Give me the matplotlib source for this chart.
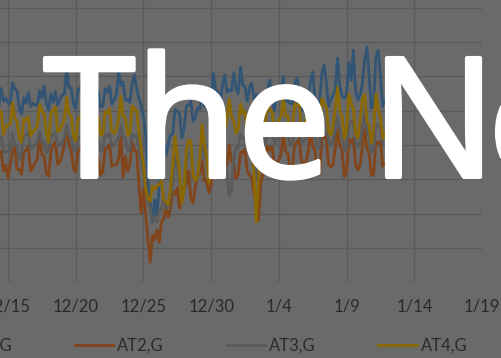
import matplotlib
matplotlib.use("Agg")
import matplotlib.pyplot as plt
import matplotlib.patheffects as pe
from matplotlib.patches import Rectangle
from matplotlib.textpath import TextPath
from matplotlib.font_manager import FontProperties
import pandas as pd

# 4-hourly readings, 12/14 00:00 through 1/12 00:00 (one row per day)
at1 = [
    50.5, 52.6, 51.6, 56.5, 52.8, 53.7,
    52.3, 51.9, 58.2, 56.3, 55.8, 50.7,
    49.0, 53.8, 52.2, 55.3, 51.3, 52.2,
    51.7, 51.4, 55.9, 53.7, 57.3, 52.1,
    50.2, 54.9, 52.5, 55.6, 51.6, 53.4,
    54.6, 54.9, 62.5, 56.6, 56.7, 52.1,
    50.5, 56.4, 56.0, 59.4, 53.7, 52.8,
    52.3, 51.9, 57.1, 54.8, 55.8, 51.0,
    51.4, 56.4, 55.4, 57.1, 51.9, 53.1,
    54.6, 61.3, 57.4, 58.4, 53.1, 53.3,
    52.5, 57.9, 60.4, 56.5, 53.7, 51.5,
    48.5, 43.0, 30.0, 23.0, 17.5, 24.0,
    19.5, 28.0, 31.0, 40.0, 37.0, 40.5,
    43.0, 43.2, 50.4, 49.9, 49.1, 41.9,
    44.6, 51.4, 51.6, 52.7, 47.0, 48.1,
    50.8, 50.5, 55.6, 51.3, 52.0, 49.2,
    51.9, 61.0, 56.0, 55.6, 51.3, 57.5,
    60.5, 55.4, 56.2, 55.7, 61.1, 56.5,
    54.9, 62.8, 57.5, 57.1, 52.8, 56.9,
    58.1, 53.4, 54.7, 49.9, 54.3, 53.6,
    53.4, 56.4, 59.0, 53.6, 49.9, 54.5,
    54.6, 56.3, 60.0, 52.8, 52.9, 52.1,
    51.9, 57.9, 59.6, 55.6, 49.9, 54.5,
    54.6, 53.4, 58.5, 61.3, 53.0, 50.7,
    51.9, 60.8, 63.4, 58.5, 51.3, 53.1,
    54.6, 56.3, 65.4, 57.2, 54.3, 53.6,
    54.9, 63.9, 58.9, 67.7, 55.7, 53.1,
    54.6, 57.8, 64.8, 68.6, 60.2, 50.7,
    51.9, 65.7, 67.7, 60.0, 51.3, 53.1,
    50.8,
]

at2 = [
    33.0, 37.4, 37.0, 38.1, 32.4, 34.1,
    30.4, 34.5, 38.0, 39.5, 33.0, 32.8,
    31.5, 38.0, 38.5, 39.5, 32.4, 33.5,
    34.8, 35.9, 42.2, 37.3, 36.8, 31.7,
    30.9, 38.0, 40.0, 41.0, 34.4, 35.0,
    37.1, 40.3, 45.0, 40.2, 38.3, 33.2,
    32.1, 38.9, 38.5, 40.1, 33.8, 34.1,
    34.2, 35.0, 40.7, 36.7, 36.2, 31.1,
    32.1, 38.9, 39.1, 40.1, 33.8, 34.1,
    34.2, 35.9, 42.5, 30.6, 36.8, 32.3,
    34.4, 40.9, 38.5, 38.1, 28.3, 20.1,
    26.9, 19.5, 12.3, 5.8, 13.7, 12.3,
    15.2, 11.5, 17.5, 18.5, 22.0, 19.0,
    21.5, 26.5, 25.5, 27.5, 21.5, 25.0,
    28.0, 28.5, 32.5, 24.5, 23.1, 28.0,
    31.0, 31.5, 35.5, 29.5, 29.5, 26.0,
    28.6, 36.0, 35.6, 36.6, 30.3, 31.2,
    32.7, 34.4, 40.1, 35.3, 34.5, 30.2,
    31.5, 38.0, 37.6, 38.9, 32.4, 31.2,
    30.5, 26.0, 23.0, 18.1, 29.0, 31.5,
    33.0, 39.7, 38.5, 39.5, 33.8, 34.7,
    35.7, 37.3, 43.1, 38.2, 37.4, 32.6,
    33.0, 40.3, 40.5, 41.9, 35.3, 34.7,
    34.8, 37.9, 44.2, 39.7, 38.3, 31.7,
    31.5, 41.8, 42.0, 42.5, 34.4, 33.5,
    34.2, 38.8, 44.5, 39.7, 38.3, 30.8,
    32.1, 41.8, 40.8, 41.9, 34.4, 32.6,
    34.2, 39.4, 44.5, 39.1, 37.4, 31.1,
    31.5, 40.9, 40.5, 41.0, 33.8, 34.7,
    34.2,
]

at3 = [
    37.6, 41.2, 41.0, 42.3, 37.9, 38.1,
    38.1, 38.3, 43.4, 40.3, 39.4, 35.7,
    37.6, 42.7, 42.8, 43.7, 38.8, 39.5,
    40.1, 40.7, 44.0, 40.8, 40.9, 37.7,
    38.5, 43.2, 42.8, 43.7, 39.7, 40.1,
    41.0, 42.1, 46.0, 42.6, 42.4, 38.6,
    38.2, 42.7, 41.9, 42.8, 38.8, 39.5,
    40.4, 40.7, 44.0, 41.1, 41.5, 38.3,
    38.8, 43.2, 42.5, 43.4, 39.4, 40.4,
    41.0, 42.1, 45.5, 42.0, 41.8, 38.3,
    38.5, 43.2, 42.5, 43.1, 38.8, 35.6,
    32.0, 29.0, 23.0, 21.8, 18.0, 19.0,
    17.5, 20.5, 21.5, 24.8, 21.5, 22.0,
    24.9, 29.0, 36.7, 33.0, 29.2, 24.6,
    26.0, 35.4, 37.5, 37.9, 30.0, 29.3,
    30.8, 34.8, 41.1, 37.3, 35.1, 30.4,
    31.8, 39.7, 40.5, 41.7, 35.9, 35.2,
    35.6, 31.2, 25.4, 26.9, 35.6, 39.1,
    39.1, 43.2, 41.9, 42.3, 38.2, 39.5,
    38.5, 34.2, 29.8, 35.6, 40.9, 41.5,
    40.6, 45.0, 43.9, 44.3, 40.3, 41.6,
    41.9, 42.7, 46.3, 43.2, 42.9, 39.8,
    40.0, 45.0, 44.8, 45.2, 40.8, 41.0,
    41.6, 43.6, 47.5, 43.7, 42.9, 39.2,
    39.4, 46.1, 46.3, 46.0, 40.8, 40.4,
    41.0, 44.1, 48.4, 44.6, 43.2, 38.3,
    39.1, 46.4, 46.9, 46.6, 40.8, 39.5,
    40.7, 45.0, 49.0, 44.3, 42.4, 37.7,
    38.5, 46.1, 45.7, 45.2, 40.3, 40.1,
    39.1,
]

at4 = [
    44.6, 49.7, 48.7, 49.8, 43.1, 45.2,
    45.9, 46.1, 52.4, 47.8, 47.0, 41.9,
    40.8, 47.6, 47.3, 48.3, 42.6, 44.0,
    44.4, 45.5, 51.8, 49.9, 49.1, 43.4,
    40.8, 49.1, 50.2, 51.2, 44.0, 44.3,
    45.9, 47.6, 53.9, 49.0, 48.5, 42.5,
    41.1, 47.6, 48.1, 49.8, 43.1, 44.3,
    44.4, 44.6, 50.4, 47.8, 47.9, 42.8,
    43.2, 49.7, 49.3, 50.6, 44.0, 43.4,
    44.4, 47.6, 54.2, 48.4, 47.9, 42.8,
    43.7, 51.4, 50.5, 49.8, 44.0, 38.5,
    34.2, 27.0, 24.5, 23.5, 28.0, 27.0,
    28.0, 28.5, 29.5, 24.0, 23.5, 22.5,
    27.5, 34.5, 42.5, 37.0, 32.0, 23.0,
    27.0, 38.5, 41.5, 41.0, 31.0, 29.5,
    31.0, 37.0, 46.0, 39.7, 36.8, 28.8,
    33.0, 46.2, 47.3, 48.3, 39.7, 39.9,
    44.4, 47.6, 53.3, 48.4, 47.0, 43.4,
    44.6, 52.0, 49.3, 49.8, 44.0, 44.3,
    41.5, 31.2, 17.5, 29.8, 42.9, 45.8,
    46.1, 52.0, 50.2, 49.8, 44.0, 45.8,
    47.3, 48.4, 53.3, 48.4, 48.5, 43.9,
    44.6, 52.0, 51.6, 51.8, 44.9, 45.8,
    47.3, 49.6, 54.7, 48.4, 47.0, 42.8,
    43.7, 53.5, 52.2, 51.2, 44.0, 42.9,
    45.9, 50.5, 56.8, 49.9, 48.5, 41.9,
    44.6, 54.9, 52.2, 50.6, 43.1, 42.0,
    47.3, 53.4, 54.7, 47.0, 45.6, 40.5,
    44.6, 54.9, 50.2, 48.3, 42.0, 43.4,
    42.9,
]

series_names = ["AT1,G", "AT2,G", "AT3,G", "AT4,G"]
series_colors = ["#5b9bd5", "#ed7d31", "#a5a5a5", "#ffc000"]
tick_dates = ["2017-12-15", "2017-12-20", "2017-12-25", "2017-12-30",
              "2018-01-04", "2018-01-09", "2018-01-14", "2018-01-19"]
tick_labels = ["12/15", "12/20", "12/25", "12/30", "1/4", "1/9", "1/14", "1/19"]

times = pd.date_range("2017-12-14", periods=len(at1), freq="4h")

W, H = 502, 358
bg = "#c1c1c1"
fig = plt.figure(figsize=(W / 100, H / 100), dpi=100, facecolor=bg)

# plot area runs past the left and top edges of the canvas
x0 = pd.Timestamp("2017-12-13")
x1 = pd.Timestamp("2018-01-19")
px_day = (482 - 8) / 35
left_px = 8 - 2 * px_day
ax = fig.add_axes([left_px / W, (H - 282) / H, (482 - left_px) / W, 90 * 3.425 / H])
ax.set_facecolor(bg)

for vals, name, col in zip([at1, at2, at3, at4], series_names, series_colors):
    ax.plot(times, vals, color=col, lw=2.0, label=name)

ax.set_xlim(x0, x1)
ax.set_ylim(0, 90)
ax.set_xticks(pd.to_datetime(tick_dates))
ax.set_xticklabels(tick_labels)
ax.set_yticks(range(0, 91, 10))
ax.set_yticklabels([])
ax.tick_params(length=0, labelsize=12, labelcolor="#4d4d4d", pad=12)
for lab in ax.get_xticklabels():
    lab.set_family("Lato")
ax.grid(True, color="#a4a4a4", lw=0.9)
for s in ax.spines.values():
    s.set_visible(False)

ax.legend(loc="center left", bbox_to_anchor=(-77 / W, (H - 346) / H),
          bbox_transform=fig.transFigure, ncol=4, frameon=False,
          prop={"family": "Lato", "size": 12}, labelcolor="#4d4d4d",
          handlelength=2.3, handletextpad=0.25, columnspacing=3.75,
          borderpad=0, borderaxespad=0)

# dark wash over the whole chart
fig.patches.append(Rectangle((0, 0), 1, 1, transform=fig.transFigure,
                             facecolor="black", alpha=0.45, zorder=5))

# big white heading, pieces placed by the left ink edge of their first glyph
title_fp = FontProperties(family="Open Sans")
title_pt = 120
size_px = title_pt * 100 / 72
baseline = (H - 177) / H
for word, ink_left in [("The", 45), ("N", 387), ("o", 497)]:
    lsb = TextPath((0, 0), word[0], prop=title_fp, size=size_px).get_extents().x0
    t = fig.text((ink_left - lsb) / W, baseline, word, color="white",
                 fontproperties=title_fp, ha="left", va="baseline", zorder=10)
    t.set_fontsize(title_pt)
    t.set_path_effects([pe.withStroke(linewidth=3, foreground="white",
                                      joinstyle="round")])

fig.savefig("out.png", dpi=100, facecolor=fig.get_facecolor())
